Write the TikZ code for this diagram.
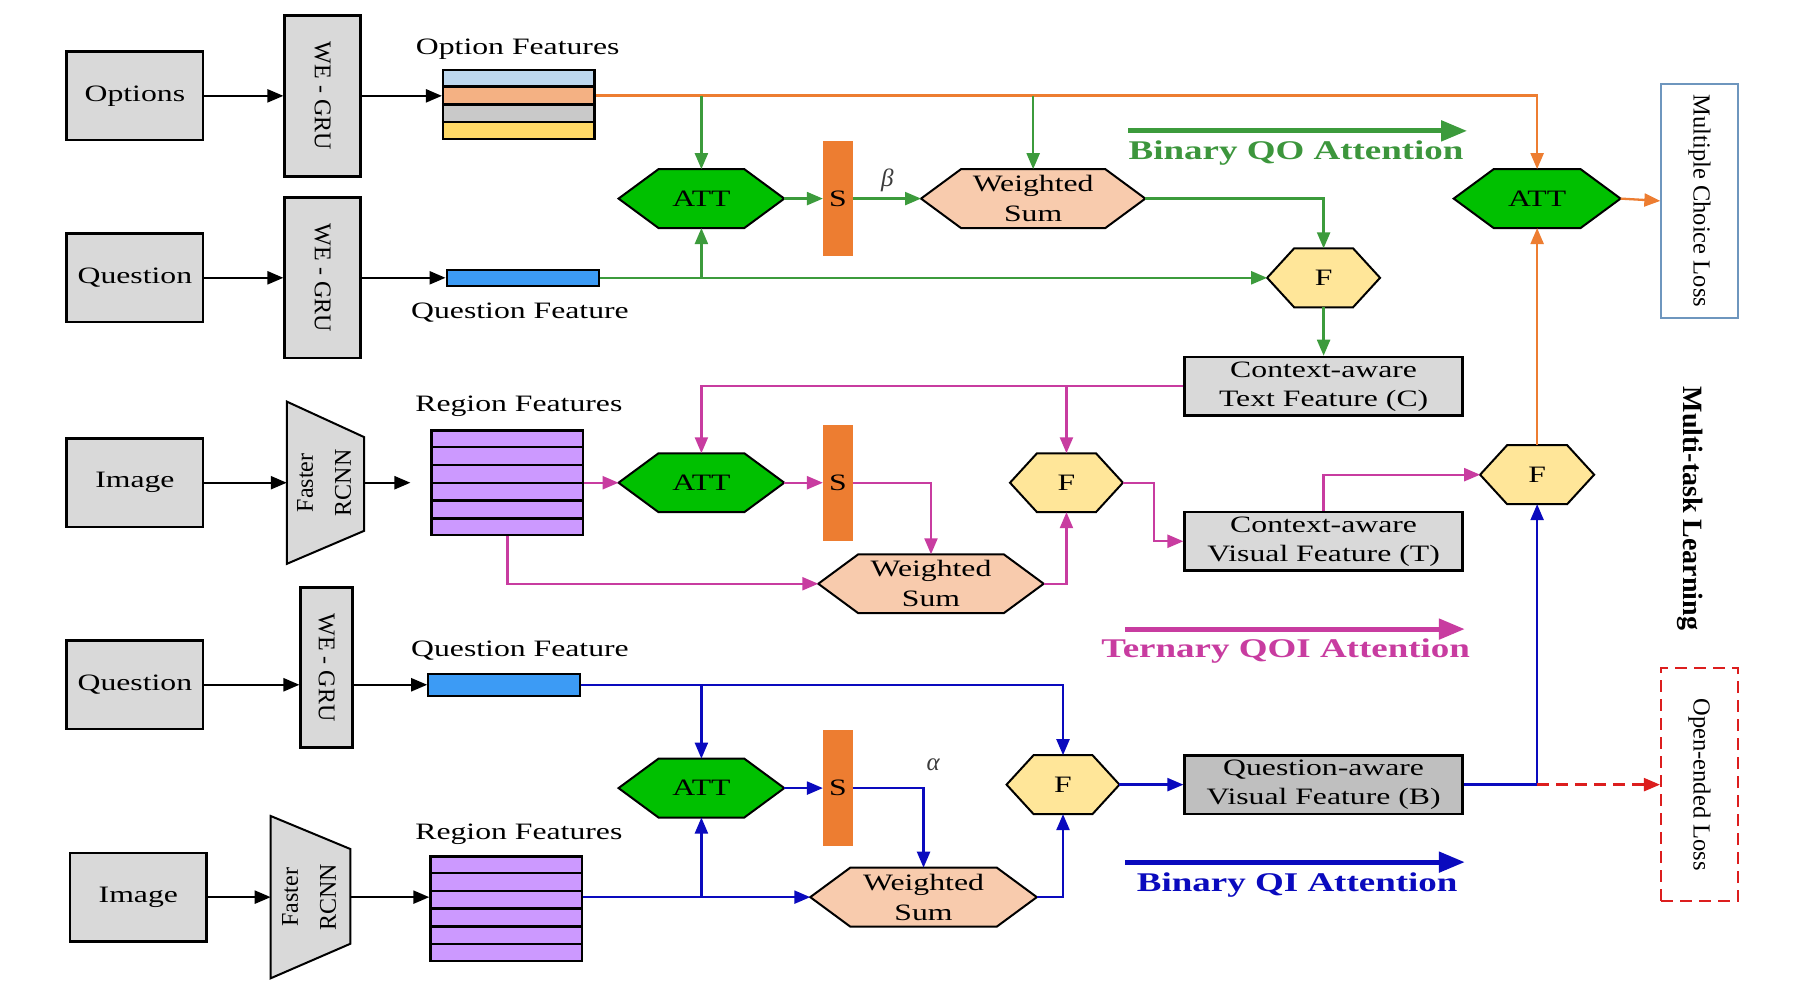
\documentclass[tikz,border=0pt]{standalone}
\usepackage{fontspec}
\usepackage{graphicx}
\setmainfont{Liberation Serif}
\newfontfamily\wf[FakeStretch=1.35]{Liberation Serif}
\newfontfamily\wfb[FakeStretch=1.37]{Liberation Serif}
\usetikzlibrary{arrows.meta,calc}
\pgfdeclarelayer{bg}
\pgfsetlayers{bg,main}
\definecolor{boxgray}{HTML}{D9D9D9}
\definecolor{bgray}{HTML}{BFBFBF}
\definecolor{attgreen}{HTML}{00C000}
\definecolor{gline}{RGB}{60,155,60}
\definecolor{peach}{HTML}{F8CBAD}
\definecolor{fyel}{HTML}{FFE699}
\definecolor{sor}{HTML}{ED7D31}
\definecolor{pinkl}{RGB}{200,60,160}
\definecolor{bluel}{RGB}{10,10,190}
\definecolor{qbar}{RGB}{60,155,245}
\definecolor{rpurp}{HTML}{CC99FF}
\definecolor{st1}{HTML}{BDD7EE}
\definecolor{st2}{HTML}{F4B183}
\definecolor{st3}{HTML}{C9C9C9}
\definecolor{st4}{HTML}{FFD966}
\definecolor{mclb}{RGB}{110,150,190}
\definecolor{redd}{RGB}{220,30,30}
\definecolor{gtext}{RGB}{60,150,60}
\definecolor{greek}{RGB}{60,60,60}
\newcommand\myhex[3]{\begin{pgfonlayer}{bg}\draw[line width=2pt,line join=miter,fill=#3] (#1.west) -- ([xshift=#2]#1.north west) -- ([xshift=-#2]#1.north east) -- (#1.east) -- ([xshift=-#2]#1.south east) -- ([xshift=#2]#1.south west) -- cycle;\end{pgfonlayer}}
\newcommand\mytrap[3]{\begin{pgfonlayer}{bg}\draw[line width=2pt,line join=miter,fill=boxgray] (#1.north west) -- ([yshift=-#2]#1.north east) -- ([yshift=#3]#1.south east) -- (#1.south west) -- cycle;\end{pgfonlayer}}
\tikzset{
  sz/.style 2 args={minimum width=#1*1.148pt,minimum height=#2*1.148pt},
  box/.style={draw, line width=2.6pt, fill=boxgray, inner sep=0pt, align=center, font=\wf\fontsize{23.5}{29}\selectfont},
  rbox/.style={draw, line width=2.6pt, fill=boxgray, inner sep=0pt, font=\fontsize{24}{32}\selectfont},
  hexn/.style={inner sep=0pt, align=center, font=\wf\fontsize{23.5}{30}\selectfont},
  lbl/.style={inner sep=0pt, font=\wf\fontsize{23.5}{28}\selectfont},
  sbar/.style={fill=sor, inner sep=0pt, font=\wf\fontsize{23.5}{28}\selectfont},
  arw/.style={line width=2.3pt, -{Triangle[length=16pt,width=13pt]}},
  blk/.style={arw, black},
  grn/.style={arw, gline},
  org/.style={arw, sor},
  pnk/.style={arw, pinkl},
  blu/.style={arw, bluel},
  leg/.style={line width=5pt, -{Triangle[length=26pt,width=20pt]}},
  legt/.style={inner sep=0pt, font=\wfb\bfseries\fontsize{27}{31}\selectfont},
  grk/.style={inner sep=0pt, text=greek, font=\itshape\fontsize{25}{28}\selectfont}
}
\begin{document}
\begin{tikzpicture}[x=1.148pt,y=-1.148pt]
\begin{pgfonlayer}{bg}
\fill[white] (0,0) rectangle (1568,871);
\end{pgfonlayer}
\useasboundingbox (0,0) rectangle (1568,871);

% ---------- row 1 / 2 ----------
\node[box,sz={119}{77}] (opt) at (117.5,83.5) {Options};
\node[rbox,sz={66}{140}] (gru1) at (281,83.5) {\rotatebox{-90}{WE - GRU}};
\node[draw,line width=2.4pt,sz={132}{60},inner sep=0pt] (of) at (452,91) {};
\begin{pgfonlayer}{bg}
\fill[st1] (of.north west) rectangle ($(of.north east)!0.25!(of.south east)$);
\fill[st2] ($(of.north west)!0.25!(of.south west)$) rectangle ($(of.north east)!0.5!(of.south east)$);
\fill[st3] ($(of.north west)!0.5!(of.south west)$) rectangle ($(of.north east)!0.75!(of.south east)$);
\fill[st4] ($(of.north west)!0.75!(of.south west)$) rectangle (of.south east);
\end{pgfonlayer}
\foreach \k in {0.25,0.5,0.75}
  \draw[line width=2.4pt] ($(of.north west)!\k!(of.south west)$) -- ($(of.north east)!\k!(of.south east)$);
\node[lbl] (oflab) at (451,43) {Option Features};
\coordinate (ofo) at ($(of.north east)!0.375!(of.south east)$);

\node[box,sz={119}{77}] (q1) at (117.5,242) {Question};
\node[rbox,sz={66}{140}] (gru2) at (281,242) {\rotatebox{-90}{WE - GRU}};
\node[draw,line width=2pt,fill=qbar,sz={133}{14},inner sep=0pt] (qf1) at (455.5,242) {};
\node[lbl] (qf1lab) at (453,272) {Question Feature};

\node[hexn,sz={144}{51}] (att1) at (611,173) {ATT};
\myhex{att1}{40pt}{attgreen}
\node[sbar,sz={26}{100}] (s1) at (730,173) {S};
\node[hexn,sz={195}{51}] (ws1) at (900,173) {Weighted\\Sum};
\myhex{ws1}{40pt}{peach}
\node[grk] (beta) at (773,157) {β};
\node[hexn,sz={98}{51}] (f1) at (1153,242) {F};
\myhex{f1}{27pt}{fyel}
\node[box,sz={242}{51}] (c) at (1153,336.5) {Context-aware\\Text Feature (C)};

\node[hexn,sz={145}{51}] (attF) at (1339,173) {ATT};
\myhex{attF}{40pt}{attgreen}
\node[draw=mclb,line width=1.5pt,sz={67}{204},inner sep=0pt,font=\fontsize{24.5}{28}\selectfont] (mcl) at (1480.5,175) {\rotatebox{-90}{Multiple Choice Loss}};

\coordinate (l1a) at (983,114);
\coordinate (l1b) at (1278,114);
\draw[leg,gline] (l1a) -- (l1b);
\node[legt,text=gtext] (l1t) at (1129,133) {Binary QO Attention};

% ---------- row 3 ----------
\node[box,sz={119}{77}] (img1) at (117.5,420.5) {Image};
\node[inner sep=0pt,sz={67}{141},font=\fontsize{24}{32}\selectfont] (frcnn1) at (283.5,420.5) {\rotatebox{90}{\begin{tabular}{@{}c@{}}Faster\\[6pt]RCNN\end{tabular}}};
\mytrap{frcnn1}{35.5pt}{33pt}
\node[draw,line width=2.4pt,fill=rpurp,sz={132}{91},inner sep=0pt] (rf1) at (442,420.5) {};
\foreach \k in {1,...,5}
  \draw[line width=2.4pt] ($(rf1.north west)!\k/6!(rf1.south west)$) -- ($(rf1.north east)!\k/6!(rf1.south east)$);
\node[lbl] (rf1lab) at (452,354) {Region Features};
\node[hexn,sz={144}{51}] (att2) at (611,420.5) {ATT};
\myhex{att2}{40pt}{attgreen}
\node[sbar,sz={26}{101}] (s2) at (730,420.5) {S};
\node[hexn,sz={196}{51}] (ws2) at (811,508.5) {Weighted\\Sum};
\myhex{ws2}{40pt}{peach}
\node[hexn,sz={98}{51}] (f2) at (929,420.5) {F};
\myhex{f2}{27pt}{fyel}
\node[box,sz={242}{51}] (t) at (1153,471.5) {Context-aware\\Visual Feature (T)};
\node[hexn,sz={99}{51}] (fF) at (1339,413.5) {F};
\myhex{fF}{27pt}{fyel}
\node[inner sep=0pt,font=\bfseries\fontsize{28}{32}\selectfont] (mtl) at (1472,443) {\rotatebox{-90}{Multi-task Learning}};

\coordinate (l2a) at (980,548);
\coordinate (l2b) at (1276,548);
\draw[leg,pinkl] (l2a) -- (l2b);
\node[legt,text=pinkl] (l2t) at (1120,567) {Ternary QOI Attention};

% ---------- row 4 / 5 ----------
\node[box,sz={119}{77}] (q2) at (117.5,596.5) {Question};
\node[rbox,sz={45}{139}] (gru3) at (284.5,581.5) {\rotatebox{-90}{WE - GRU}};
\node[draw,line width=2pt,fill=qbar,sz={132}{19},inner sep=0pt] (qf2) at (439,596.5) {};
\node[lbl] (qf2lab) at (453,567) {Question Feature};
\node[hexn,sz={144}{51}] (att3) at (611,686.5) {ATT};
\myhex{att3}{40pt}{attgreen}
\node[sbar,sz={26}{101}] (s3) at (730,686.5) {S};
\node[grk] (alpha) at (813,666) {α};
\node[hexn,sz={197}{51}] (ws3) at (804.5,781.5) {Weighted\\Sum};
\myhex{ws3}{40pt}{peach}
\node[hexn,sz={98}{51}] (f3) at (926,683.5) {F};
\myhex{f3}{27pt}{fyel}
\node[box,fill=bgray,sz={242}{51}] (b) at (1153,683.5) {Question-aware\\Visual Feature (B)};
\node[box,sz={119}{77}] (img2) at (120.5,781.5) {Image};
\node[inner sep=0pt,sz={69}{141},font=\fontsize{24}{32}\selectfont] (frcnn2) at (270.5,781.5) {\rotatebox{90}{\begin{tabular}{@{}c@{}}Faster\\[6pt]RCNN\end{tabular}}};
\mytrap{frcnn2}{33pt}{34.5pt}
\node[draw,line width=2.4pt,fill=rpurp,sz={132}{91},inner sep=0pt] (rf2) at (441,791.5) {};
\foreach \k in {1,...,5}
  \draw[line width=2.4pt] ($(rf2.north west)!\k/6!(rf2.south west)$) -- ($(rf2.north east)!\k/6!(rf2.south east)$);
\node[lbl] (rf2lab) at (452,727) {Region Features};
\node[draw=redd,dashed,dash pattern=on 12pt off 7pt,line width=2.3pt,sz={67}{203},inner sep=0pt,font=\fontsize{24.5}{28}\selectfont] (oel) at (1480.5,683.5) {\rotatebox{-90}{Open-ended Loss}};

\coordinate (l3a) at (980,751);
\coordinate (l3b) at (1276,751);
\draw[leg,bluel] (l3a) -- (l3b);
\node[legt,text=bluel] (l3t) at (1130,771) {Binary QI Attention};

% ---------- connectors ----------
\draw[blk] (opt.east) -- (gru1.west);
\draw[blk] (gru1.east) -- (gru1.east -| of.west);
\draw[blk] (q1.east) -- (gru2.west);
\draw[blk] (gru2.east) -- (qf1.west);
\draw[org] (ofo) -| (attF.north);
\draw[grn] (att1.north |- ofo) -- (att1.north);
\draw[grn] (ws1.north |- ofo) -- (ws1.north);
\draw[grn] (att1.east) -- (s1.west);
\draw[grn] (s1.east) -- (ws1.west);
\draw[grn] (ws1.east) -| (f1.north);
\draw[grn] (qf1.east) -- (f1.west);
\draw[grn] (att1.south |- qf1.east) -- (att1.south);
\draw[grn] (f1.south) -- (c.north);
\draw[org] (attF.east) -- (mcl.west);
\draw[org] (fF.north) -- (attF.south);

\draw[pnk] (c.west) -| (att2.north);
\draw[pnk] (f2.north |- c.west) -- (f2.north);
\draw[pnk] (rf1.east) -- (att2.west);
\draw[pnk] (att2.east) -- (s2.west);
\draw[pnk] (s2.east) -| (ws2.north);
\draw[pnk] (rf1.south) |- (ws2.west);
\draw[pnk] (ws2.east) -| (f2.south);
\draw[pnk] (f2.east) -- ++(27,0) |- (t.west);
\draw[pnk] (t.north) |- (fF.west);
\draw[blk] (img1.east) -- (frcnn1.west);
\draw[blk,shorten >=20pt] (frcnn1.east) -- (rf1.west);

\draw[blk] (q2.east) -- (q2.east -| gru3.west);
\draw[blk] (q2.east -| gru3.east) -- (qf2.west);
\draw[blu] (qf2.east) -| (f3.north);
\draw[blu] (att3.north |- qf2.east) -- (att3.north);
\draw[blu] (att3.east) -- (s3.west);
\draw[blu] (s3.east) -| (ws3.north);
\coordinate (rf2o) at (rf2.east |- ws3.west);
\draw[blu] (rf2o) -- (ws3.west);
\draw[blu] (att3.south |- rf2o) -- (att3.south);
\draw[blu] (ws3.east) -| (f3.south);
\draw[blu] (f3.east) -- (b.west);
\draw[blu] (b.east) -| (fF.south);
\draw[arw,redd,dash pattern=on 12pt off 7pt] (fF.south |- b.east) -- (oel.west);
\draw[blk] (img2.east) -- (frcnn2.west);
\draw[blk] (frcnn2.east) -- (rf2.west |- frcnn2.east);
\end{tikzpicture}
\end{document}
